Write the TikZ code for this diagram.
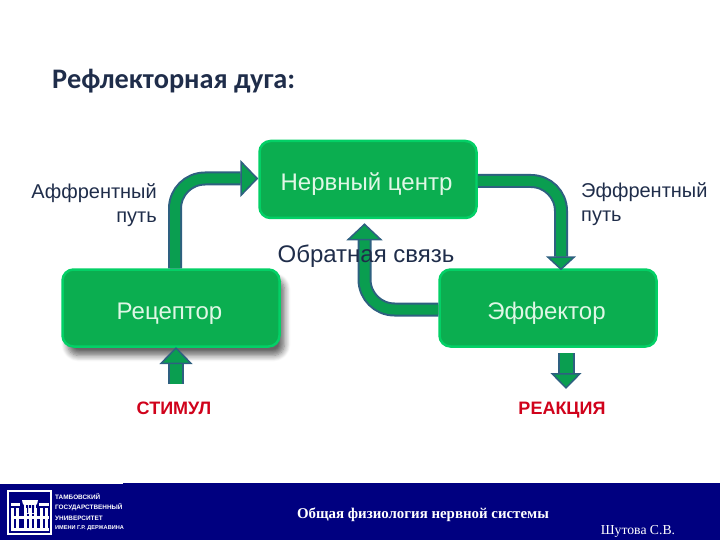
\documentclass[tikz,border=0pt]{standalone}
\usepackage{fontspec}
\setmainfont{Liberation Sans}
\newfontfamily\titlefont{Carlito}
\newfontfamily\footfont{Liberation Serif}
\usetikzlibrary{arrows.meta,shadows.blur}
\definecolor{boxgreen}{HTML}{0BAE50}
\definecolor{boxedge}{HTML}{03D066}
\definecolor{arrowgreen}{HTML}{0A9E50}
\definecolor{arrowedge}{HTML}{2E6080}
\definecolor{labelink}{HTML}{1F2D4A}
\definecolor{bandblue}{HTML}{000080}
\definecolor{boxink}{HTML}{DFF7E6}
\definecolor{redink}{HTML}{D0021B}
\tikzset{
  boxnode/.style={draw=boxedge,fill=boxgreen,line width=2.5pt,rounded corners=11pt,
    minimum width=217pt,minimum height=77pt,text=boxink,font=\fontsize{24}{24}\selectfont,
    text height=23pt,text depth=0pt,execute at end node={\hspace*{3pt}}},
  flow/.style 2 args={line width=2pt,draw=arrowedge,double=arrowgreen,double distance=10pt,
    -{Triangle[width=#1pt,length=#2pt,line width=1.5pt,fill=arrowgreen,color=arrowedge]}},
  shortflow/.style={flow={33}{17},double distance=12.5pt},
  pathlabel/.style={text=labelink,align=right,font=\fontsize{20}{24}\selectfont,inner sep=0pt},
  outcome/.style={text=redink,anchor=base,font=\bfseries\fontsize{18}{18}\selectfont,inner sep=0pt},
  logoline/.style={text=white,anchor=west,inner sep=0pt,font=\bfseries\fontsize{6.4}{7}\selectfont},
  foottext/.style={text=white,inner sep=0pt,font=\footfont\bfseries\fontsize{14.9}{15}\selectfont}
}
\begin{document}
\begin{tikzpicture}[x=1pt,y=-1pt]
  \useasboundingbox (0,0) rectangle (720,540);
  % footer
  \fill [bandblue] (0,484) -- (123,484) -- (123,483) -- (720,483) -- (720,540) -- (0,540) -- cycle;
  \draw [white,line width=2pt,fill=bandblue] (8,491) rectangle (51,534);
  \fill [white] (22,500) arc [start angle=180,end angle=0,radius=8] -- cycle;
  \fill [white] (11,503) rectangle (20,506);
  \fill [white] (39,503) rectangle (49,506);
  \fill [white] (24,503) rectangle (36,514);
  \fill [bandblue] (26,505) rectangle (28,513) (29,505) rectangle (31,513) (32,505) rectangle (34,513);
  \fill [white] (11,516) rectangle (49,519);
  \fill [white] (11,528) rectangle (49,531);
  \foreach \xa in {11,16,24,29,34,40,45}
    \fill [white] (\xa,508) rectangle ++(3,20);
  \node [text=labelink,inner sep=0pt,anchor=west,font=\titlefont\bfseries\fontsize{28.3}{28}\selectfont] (heading) at (52,81) {Рефлекторная дуга:};
  % boxes
  \node [boxnode,blur shadow={shadow xshift=5pt,shadow yshift=-9pt,shadow blur steps=8,shadow blur radius=6pt,shadow opacity=60}] (receptor) at (171,308) {Рецептор};
  \node [boxnode] (centre) at (368,179.5) {Нервный центр};
  \node [boxnode] (effector) at (548,308) {Эффектор};
  \coordinate (stimulus) at (176,384);
  \coordinate (stimulusend) at (176,347);
  \coordinate (response) at (566,353);
  \coordinate (responseend) at (566,389);
  % arrows
  \draw [flow={37}{18},rounded corners=30pt] ([xshift=4pt]receptor.north) |- ([yshift=1pt]centre.west);
  \draw [flow={30}{14},rounded corners=30pt] ([yshift=-1.5pt]centre.east) -| ([xshift=13pt,yshift=-2pt]effector.north);
  \draw [flow={36}{17},rounded corners=30pt] ([yshift=-1.5pt]effector.west) -| ([xshift=-3.5pt,yshift=-4pt]centre.south);
  \draw [shortflow] (stimulus) -- (stimulusend);
  \draw [flow={31}{16},double distance=13pt] (response) -- (responseend);
  % labels
  \node [pathlabel,anchor=east] (afferent) at (157,205.5) {Аффрентный\\путь};
  \node [pathlabel,anchor=west,align=left] (efferent) at (581,204) {Эффрентный\\путь};
  \node [pathlabel,font=\fontsize{24}{24}\selectfont] (feedback) at (366,256) {Обратная связь};
  \node [outcome] (stimul) at (174,414) {СТИМУЛ};
  \node [outcome] (reaction) at (562,414) {РЕАКЦИЯ};
  \node [logoline] (logoa) at (55,497) {ТАМБОВСКИЙ};
  \node [logoline] (logob) at (55,507) {ГОСУДАРСТВЕННЫЙ};
  \node [logoline] (logoc) at (55,518) {УНИВЕРСИТЕТ};
  \node [logoline,font=\bfseries\fontsize{5.6}{7}\selectfont] (logod) at (55,528) {ИМЕНИ Г.Р. ДЕРЖАВИНА};
  \node [foottext] (course) at (423,514.5) {Общая физиология нервной системы};
  \node [foottext,font=\footfont\fontsize{13.7}{14}\selectfont] (author) at (638,531) {Шутова С.В.};
\end{tikzpicture}
\end{document}
